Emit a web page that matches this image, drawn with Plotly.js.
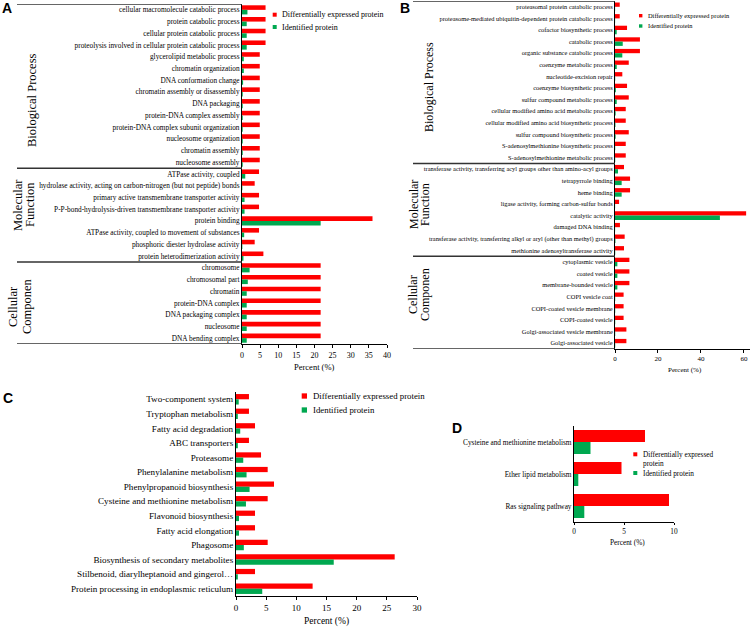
<!DOCTYPE html>
<html>
<head>
<meta charset="utf-8">
<script src="https://cdn.plot.ly/plotly-3.0.1.min.js"></script>
<style>html,body{margin:0;padding:0;background:#fff;}#chart{width:751px;height:628px;}</style>
</head>
<body>
<div id="chart"></div>
<script>
// ---------- DATA ----------
const catsA = [
  "cellular macromolecule catabolic process","protein catabolic process","cellular protein catabolic process",
  "proteolysis involved in cellular protein catabolic process","glycerolipid metabolic process","chromatin organization",
  "DNA conformation change","chromatin assembly or disassembly","DNA packaging","protein-DNA complex assembly",
  "protein-DNA complex subunit organization","nucleosome organization","chromatin assembly","nucleosome assembly",
  "ATPase activity, coupled","hydrolase activity, acting on carbon-nitrogen (but not peptide) bonds",
  "primary active transmembrane transporter activity","P-P-bond-hydrolysis-driven transmembrane transporter activity",
  "protein binding","ATPase activity, coupled to movement of substances","phosphoric diester hydrolase activity",
  "protein heterodimerization activity",
  "chromosome","chromosomal part","chromatin","protein-DNA complex","DNA packaging complex","nucleosome","DNA bending complex"
];
const diffA = [6.5,6.5,6.5,6.5,4.9,4.9,4.9,4.9,4.9,4.9,4.9,4.9,4.9,4.9,
  4.7,3.5,4.7,4.7,36.0,4.7,3.5,5.9,
  21.7,21.7,21.7,21.7,21.7,21.7,21.7];
const identA = [1.5,1.3,1.3,1.3,0.5,0.5,0.3,0.2,0.2,0.2,0.2,0.2,0.2,0.2,
  0.9,0.1,0.7,0.7,21.7,0.6,0.1,0.4,
  2.1,1.6,1.3,1.3,1.3,1.3,1.3];

const catsB = [
  "proteasomal protein catabolic process","proteasome-mediated ubiquitin-dependent protein catabolic process",
  "cofactor biosynthetic process","catabolic process","organic substance catabolic process","coenzyme metabolic process",
  "nucleotide-excision repair","coenzyme biosynthetic process","sulfur compound metabolic process",
  "cellular modified amino acid metabolic process","cellular modified amino acid biosynthetic process",
  "sulfur compound biosynthetic process","S-adenosylmethionine biosynthetic process","S-adenosylmethionine metabolic process",
  "transferase activity, transferring acyl groups other than amino-acyl groups","tetrapyrrole binding","heme binding",
  "ligase activity, forming carbon-sulfur bonds","catalytic activity","damaged DNA binding",
  "transferase activity, transferring alkyl or aryl (other than methyl) groups","methionine adenosyltransferase activity",
  "cytoplasmic vesicle","coated vesicle","membrane-bounded vesicle","COPI vesicle coat","COPI-coated vesicle membrane",
  "COPI-coated vesicle","Golgi-associated vesicle membrane","Golgi-associated vesicle"
];
const diffB = [2.2,2.2,5.6,11.6,11.6,6.4,3.4,5.6,6.4,5.0,5.0,6.4,5.0,5.0,
  4.2,7.0,7.0,1.9,61.0,2.3,4.5,4.2,
  6.7,6.7,6.7,4.0,4.0,4.0,5.3,5.3];
const identB = [0.05,0.05,0.8,3.6,3.4,0.8,0.1,0.4,0.8,0.3,0.2,0.3,0.1,0.1,
  1.4,3.1,3.1,0.05,48.8,0.05,0.2,0.1,
  1.1,1.1,1.1,0.1,0.1,0.1,0.1,0.1];

const catsC = [
  "Two-component system","Tryptophan metabolism","Fatty acid degradation","ABC transporters","Proteasome",
  "Phenylalanine metabolism","Phenylpropanoid biosynthesis","Cysteine and methionine metabolism",
  "Flavonoid biosynthesis","Fatty acid elongation","Phagosome","Biosynthesis of secondary metabolites",
  "Stilbenoid, diarylheptanoid and gingerol\u2026","Protein processing in endoplasmic reticulum"
];
const diffC = [2.15,2.15,3.15,2.15,4.15,5.25,6.3,5.25,3.15,3.15,5.25,26.3,3.15,12.7];
const identC = [0.45,0.3,0.7,0.3,1.2,1.75,2.25,1.65,0.5,0.5,1.3,16.2,0.3,4.35];

const catsD = ["Cysteine and methionine metabolism","Ether lipid metabolism","Ras signaling pathway"];
const diffD = [7.1,4.75,9.5];
const identD = [1.65,0.43,1.03];

const seriesNames = ["Differentially expressed protein","Identified protein"];
const ticksA = [0,5,10,15,20,25,30,35,40];
const ticksB = [0,20,40,60];
const ticksC = [0,5,10,15,20,25,30];
const ticksD = [0,5,10];

// ---------- LAYOUT HELPERS ----------
const W = 751, H = 628;
const RED = "#ff0000", GREEN = "#00a850";
const SERIF = "Liberation Serif, Times New Roman, serif";
const px = v => v / W;
const py = v => 1 - v / H;
const dX = (a,b) => [a/W, b/W];
const dY = (top,bot) => [1-bot/H, 1-top/H];

function barPair(cats, d, idv, ax, w){
  const xa = ax === 1 ? 'x' : 'x'+ax, ya = ax === 1 ? 'y' : 'y'+ax;
  return [
    {type:'bar', orientation:'h', name:seriesNames[0], y:cats, x:d, xaxis:xa, yaxis:ya,
     marker:{color:RED, line:{width:0}}, width:w, offset:-w, showlegend:false, hoverinfo:'x+y'},
    {type:'bar', orientation:'h', name:seriesNames[1], y:cats, x:idv, xaxis:xa, yaxis:ya,
     marker:{color:GREEN, line:{width:0}}, width:w, offset:0, showlegend:false, hoverinfo:'x+y'}
  ];
}

const data = [
  ...barPair(catsA, diffA, identA, 1, 0.39),
  ...barPair(catsB, diffB, identB, 2, 0.37),
  ...barPair(catsC, diffC, identC, 3, 0.36),
  ...barPair(catsD, diffD, identD, 4, 0.375)
];

function xAx(dom, range, ticks, fs, tl){
  return {domain:dom, range:range, showline:true, linecolor:'#000', linewidth:1, ticks:'outside', ticklen:tl||3,
    tickcolor:'#000', tickmode:'array', tickvals:ticks, ticktext:ticks.map(String), showgrid:false, zeroline:false,
    tickfont:{family:SERIF, size:fs, color:'#000'}, automargin:false, fixedrange:true};
}
function yAx(dom, cats, fs, anchor){
  return {domain:dom, type:'category', range:[cats.length-0.5,-0.5], showline:true, linecolor:'#000', linewidth:1,
    ticks:'', tickmode:'array', tickvals:cats, ticktext:cats, showgrid:false, zeroline:false, anchor:anchor,
    tickfont:{family:SERIF, size:fs, color:'#000'}, automargin:false, fixedrange:true};
}

const layout = {
  width:W, height:H, margin:{l:0,r:0,t:0,b:0}, paper_bgcolor:'#fff', plot_bgcolor:'rgba(0,0,0,0)',
  barmode:'overlay', showlegend:false,
  xaxis:  Object.assign(xAx(dX(242,387),[0,40],ticksA,8), {anchor:'y'}),
  yaxis:  yAx(dY(4,344), catsA, 7.3, 'x'),
  xaxis2: Object.assign(xAx(dX(615,750),[0,62.8],ticksB,7), {anchor:'y2'}),
  yaxis2: yAx(dY(1,349), catsB, 6.4, 'x2'),
  xaxis3: Object.assign(xAx(dX(236,417),[0,30],ticksC,9), {anchor:'y3'}),
  yaxis3: yAx(dY(392,596), catsC, 9.1, 'x3'),
  xaxis4: Object.assign(xAx(dX(574,674),[0,10],ticksD,7.3,2), {anchor:'y4'}),
  yaxis4: yAx(dY(426,522), catsD, 7.3, 'x4'),
  shapes:[], annotations:[]
};

// group bracket lines (A and B)
function hline(x0, x1, yv, yref){
  layout.shapes.push({type:'line', xref:'paper', yref:yref, x0:px(x0), x1:px(x1), y0:yv, y1:yv,
    line:{color:'#333', width:1.5}});
}
[-0.5, 13.5, 21.5, 28.5].forEach(v => hline(17, 242, v, 'y'));
[-0.5, 13.5, 21.5, 29.5].forEach(v => hline(413, 615, v, 'y2'));

function ann(text, x, y, opts){
  layout.annotations.push(Object.assign({text:text, xref:'paper', yref:'paper', x:px(x), y:py(y),
    showarrow:false, xanchor:'center', yanchor:'middle', font:{family:SERIF, size:10, color:'#000'}}, opts||{}));
}
// group labels
const GF = {family:SERIF, size:12.5, color:'#000'};
ann("Biological Process", 32, 100, {textangle:-90, font:GF});
ann("Molecular", 18, 205, {textangle:-90, font:GF});
ann("Function", 30, 205, {textangle:-90, font:GF});
ann("Cellular", 13, 306, {textangle:-90, font:GF});
ann("Componen", 27, 306, {textangle:-90, font:GF});

const GFB = {family:SERIF, size:12, color:'#000'};
ann("Biological Process", 429, 87, {textangle:-90, font:GFB});
ann("Molecular", 414, 205, {textangle:-90, font:GFB});
ann("Function", 425, 205, {textangle:-90, font:GFB});
ann("Cellular", 413, 295, {textangle:-90, font:GFB});
ann("Componen", 425, 295, {textangle:-90, font:GFB});

// axis titles
ann("Percent (%)", 314, 367, {font:{family:SERIF, size:8.5, color:'#000'}});
ann("Percent (%)", 685, 370, {font:{family:SERIF, size:7, color:'#000'}});
ann("Percent (%)", 326, 621, {font:{family:SERIF, size:9.5, color:'#000'}});
ann("Percent (%)", 627, 542, {font:{family:SERIF, size:7.3, color:'#000'}});

// panel letters
const LF = {family:'Liberation Sans, Arial, sans-serif', size:14, color:'#000', weight:'bold'};
ann("<b>A</b>", 7, 8, {font:LF});
ann("<b>B</b>", 405, 8, {font:LF});
ann("<b>C</b>", 8, 398, {font:LF});
ann("<b>D</b>", 457, 428, {font:LF});

// legends (manual)
function legend(x, ys, size, fs, textX, labels, texty){
  [RED, GREEN].forEach((c,i) => {
    layout.shapes.push({type:'rect', xref:'paper', yref:'paper', x0:px(x), x1:px(x+size),
      y0:py(ys[i]+size/2), y1:py(ys[i]-size/2), fillcolor:c, line:{width:0}});
    ann(labels[i], textX, texty ? texty[i] : ys[i], {xanchor:'left', align:'left', font:{family:SERIF, size:fs, color:'#000'}});
  });
}
legend(272.7, [14.7, 27], 4, 8, 280, seriesNames);
legend(639, [15.7, 26], 3.4, 6.4, 646, seriesNames);
legend(301.7, [396, 410], 5.3, 8.8, 311, seriesNames);
legend(633.3, [454.3, 473], 4, 7.3, 640.5, ["Differentially expressed<br>protein", seriesNames[1]], [458.7, 473]);

Plotly.newPlot('chart', data, layout, {staticPlot:true, displayModeBar:false});
</script>
</body>
</html>
